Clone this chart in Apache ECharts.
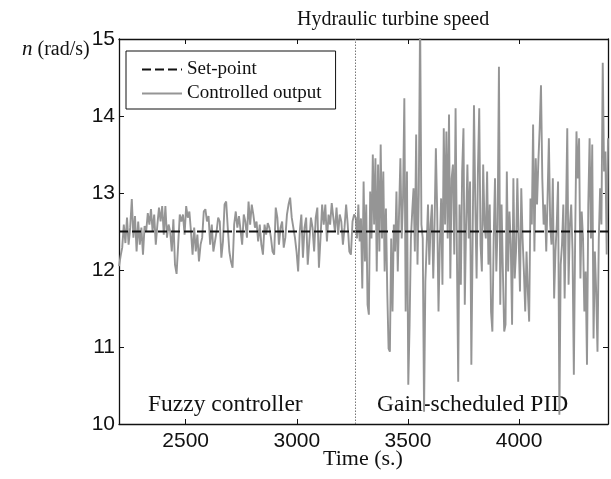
<!DOCTYPE html>
<html>
<head>
<meta charset="utf-8">
<script src="https://cdn.jsdelivr.net/npm/echarts@6/dist/echarts.min.js"></script>
<style>
  html, body { margin: 0; padding: 0; background: #fff; }
  #chartColumn { width: 611px; height: 479px; }
</style>
</head>
<body>
<div id="chartColumn"></div>
<script>
// 时间轴范围与刻度
var timeMin = 2200;
var timeMax = 4400;
var switchTime = 3265;
var timeTicks = [2500, 3000, 3500, 4000];
var speedTicks = [10, 11, 12, 13, 14, 15];
var setPoint = 12.5;

// 模糊控制器段 (2200 ~ 3265 s)
var fuzzyOutput = [
  12.05,12.18,12.29,12.59,12.35,12.68,12.33,12.55,12.92,12.42,12.70,12.24,12.63,12.33,12.55,12.20,
  12.57,12.50,12.74,12.59,12.79,12.50,12.72,12.33,12.59,12.81,12.63,12.83,12.46,12.83,12.42,12.59,
  12.50,12.24,12.66,12.07,11.95,12.33,12.72,12.63,12.72,12.46,12.83,12.68,12.76,12.50,12.20,12.55,
  12.24,12.46,12.11,12.33,12.42,12.76,12.79,12.63,12.70,12.33,12.59,12.24,12.37,12.50,12.68,12.63,
  12.16,12.37,12.85,12.89,12.55,12.24,12.11,12.03,12.59,12.76,12.55,12.70,
  12.68,12.33,12.72,12.63,12.42,12.89,12.59,12.85,12.72,12.55,12.63,12.37,12.59,12.33,12.20,12.59,
  12.46,12.61,12.55,12.42,12.24,12.20,12.81,12.68,12.33,12.55,12.63,12.29,12.42,12.72,12.85,12.94,
  12.68,12.55,12.42,12.24,11.98,12.50,12.72,12.16,12.55,12.68,12.07,12.37,12.68,12.55,12.24,12.68,
  12.81,12.03,12.42,12.85,12.59,12.85,12.37,12.72,12.59,12.87,12.68,12.50,12.81,12.46,12.72,12.63,
  12.33,12.55,12.85,12.59,12.24,12.20,12.63,12.72,12.68
];

// 增益调度PID段 (3265 ~ 4400 s)
var pidOutput = [
  12.67,12.41,12.85,12.37,12.67,11.76,13.15,12.11,12.85,11.55,11.42,13.02,12.41,13.50,12.59,13.45,
  11.98,13.37,12.24,13.63,12.41,13.28,11.98,12.80,11.72,10.98,10.94,12.41,11.46,12.59,12.24,13.02,
  11.98,12.76,13.45,12.41,12.93,14.23,11.46,13.28,10.51,11.29,12.41,12.76,13.06,12.24,13.76,12.07,
  12.98,15.30,12.59,12.41,10.16,11.85,12.33,12.85,12.07,12.59,12.85,11.89,12.59,13.58,12.76,11.46,
  12.33,12.93,11.81,13.84,12.59,13.80,12.41,14.02,11.89,13.19,13.37,12.20,14.10,12.24,10.55,12.85,
  11.81,13.28,13.84,11.55,12.59,13.37,12.41,13.15,10.77,12.41,14.14,12.85,11.89,13.28,14.10,12.33,
  11.98,13.37,12.59,12.41,13.28,12.07,12.85,11.46,11.20,12.41,13.19,11.98,12.59,14.64,11.55,12.85,
  11.98,11.20,11.29,13.28,11.98,12.76,12.33,11.29,13.19,11.89,12.24,13.19,12.41,11.72,13.06,12.41,
  11.98,11.46,12.24,11.72,11.33,12.93,12.59,13.89,12.24,13.45,12.85,13.41,13.84,14.40,13.19,12.59,
  12.85,12.24,12.93,13.71,12.59,12.33,13.19,11.63,12.24,12.59,13.15,10.12,12.07,12.33,12.85,11.63,
  12.67,13.84,11.81,12.59,12.85,12.24,10.64,12.41,13.80,13.19,13.71,11.89,12.76,12.41,11.46,11.98,
  10.77,12.85,13.71,12.41,13.63,11.11,12.24,11.72,10.94,12.41,13.06,12.59,14.69,13.28,13.54,12.20,
  13.71
];

function toPoints(values, t0, t1) {
  var step = (t1 - t0) / (values.length - 1);
  return values.map(function (v, i) { return [t0 + i * step, v]; });
}

var outputData = toPoints(fuzzyOutput, timeMin, switchTime)
  .concat(toPoints(pidOutput, switchTime, timeMax).slice(1));

var serif = 'Liberation Serif';
var sans = 'Liberation Sans';

var chartOption = {
  animation: false,
  title: {
    text: 'Hydraulic turbine speed',
    left: 292,
    top: 5,
    textStyle: { fontFamily: serif, fontSize: 20, fontWeight: 'normal', color: '#111' }
  },
  legend: {
    orient: 'vertical',
    left: 126,
    top: 51,
    padding: [9, 14, 6, 15],
    itemGap: 5,
    itemWidth: 40,
    itemHeight: 12,
    backgroundColor: '#fff',
    borderColor: '#111',
    borderWidth: 1,
    borderRadius: 0,
    itemStyle: { opacity: 0 },
    textStyle: { fontFamily: serif, fontSize: 19, color: '#111' },
    data: ['Set-point', 'Controlled output']
  },
  grid: { left: 119, right: 3, top: 39, bottom: 55, outerBoundsMode: 'none', containLabel: false },
  xAxis: [{
    type: 'value',
    min: timeMin,
    max: timeMax,
    axisLine: { lineStyle: { color: '#111', width: 1.3 } },
    axisTick: { inside: true, length: 5, customValues: timeTicks, lineStyle: { color: '#111' } },
    axisLabel: {
      customValues: timeTicks, margin: 7, fontFamily: sans, fontSize: 21, color: '#111',
      formatter: function (v) { return String(v); }
    },
    splitLine: { show: false }
  }, {
    type: 'value',
    position: 'top',
    min: timeMin,
    max: timeMax,
    axisLine: { show: true, onZero: false, lineStyle: { color: '#111', width: 1.3 } },
    axisTick: { inside: true, length: 5, customValues: timeTicks, lineStyle: { color: '#111' } },
    axisLabel: { show: false },
    splitLine: { show: false }
  }],
  yAxis: [{
    type: 'value',
    min: 10,
    max: 15,
    interval: 1,
    axisLine: { show: true, lineStyle: { color: '#111', width: 1.3 } },
    axisTick: { show: true, inside: true, length: 5, lineStyle: { color: '#111' } },
    axisLabel: { margin: 4, fontFamily: sans, fontSize: 21, color: '#111' },
    splitLine: { show: false }
  }, {
    type: 'value',
    position: 'right',
    min: 10,
    max: 15,
    interval: 1,
    axisLine: { show: true, onZero: false, lineStyle: { color: '#111', width: 1.3 } },
    axisTick: { show: true, inside: true, length: 5, lineStyle: { color: '#111' } },
    axisLabel: { show: false },
    splitLine: { show: false }
  }],
  series: [{
    name: 'Controlled output',
    type: 'line',
    data: outputData,
    showSymbol: false,
    symbol: 'none',
    color: '#959595',
    lineStyle: { color: '#959595', width: 1.9 },
    z: 2
  }, {
    name: 'Set-point',
    type: 'line',
    data: [[timeMin, setPoint], [timeMax, setPoint]],
    symbol: 'none',
    color: '#111',
    lineStyle: { color: '#111', width: 2, type: [9, 4] },
    z: 3,
    markLine: {
      silent: true,
      symbol: 'none',
      label: { show: false },
      lineStyle: { color: '#777', width: 1, type: [1.5, 1.5] },
      data: [{ xAxis: switchTime }]
    }
  }],
  graphic: [{
    type: 'text',
    left: 22,
    top: 39,
    style: {
      text: '{i|n} (rad/s)',
      rich: { i: { fontStyle: 'italic', fontFamily: serif, fontSize: 21 } },
      fontFamily: serif, fontSize: 20, fill: '#111'
    }
  }, {
    // x轴标题
    type: 'text',
    x: 363,
    y: 459,
    style: {
      text: 'Time (s.)', fontFamily: serif, fontSize: 22, fill: '#111',
      align: 'center', verticalAlign: 'middle'
    }
  }, {
    type: 'text',
    left: 148,
    top: 393,
    style: { text: 'Fuzzy controller', fontFamily: serif, fontSize: 23.5, fill: '#111' }
  }, {
    type: 'text',
    left: 377,
    top: 393,
    style: { text: 'Gain-scheduled PID', fontFamily: serif, fontSize: 23.5, fill: '#111' }
  }]
};

//基于准备好的dom，初始化echarts实例
var chartColumn = echarts.init(document.getElementById('chartColumn'));
chartColumn.setOption(chartOption);
</script>
</body>
</html>
